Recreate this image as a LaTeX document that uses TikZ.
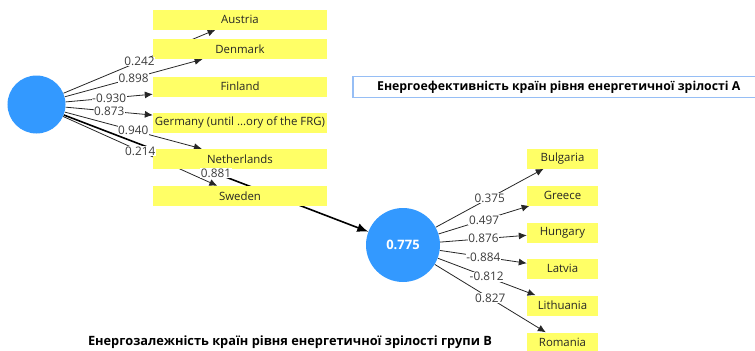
\documentclass[tikz,border=0pt]{standalone}
\usepackage{fontspec}
\setmainfont{Open Sans}
\usetikzlibrary{arrows.meta}
\definecolor{lvblue}{RGB}{51,153,255}
\definecolor{mvyellow}{RGB}{255,255,102}
\definecolor{titleblue}{RGB}{150,190,245}
\definecolor{wtgray}{RGB}{60,60,60}
\pgfdeclarelayer{bg}
\pgfsetlayers{bg,main}

\begin{document}
\begin{tikzpicture}[x=1bp,y=-1bp,
  lv/.style={circle, fill=lvblue, inner sep=0pt},
  mv/.style={fill=mvyellow, inner sep=0pt, minimum height=20bp, text=black!85,
    font=\fontsize{11.4bp}{12bp}\selectfont},
  wt/.style={fill=white, inner sep=0.6bp, text=wtgray,
    font=\fontsize{11.8bp}{12bp}\selectfont},
  outer/.style={-{Latex[length=8bp,width=7bp]}, line width=0.8bp, black!85},
  inner/.style={-{Latex[length=11bp,width=9bp]}, line width=1.6bp, black}]
\useasboundingbox (0,0) rectangle (755,350);

% Latent variables
\node[lv, minimum size=58bp] (enA) at (36.5,104.5) {};
\node[lv, minimum size=74bp, text=white,
  font=\bfseries\fontsize{13bp}{14bp}\selectfont] (enB) at (403,245) {0.775};

% Indicators of group A
\foreach \name/\txt/\y in {austria/Austria/19.5, denmark/Denmark/49,
    finland/Finland/86.5, germany/{Germany (until ...ory of the FRG)}/123,
    netherlands/Netherlands/159, sweden/Sweden/196}
  \node[mv, minimum width=174bp] (\name) at (240,\y) {\txt};

% Indicators of group B
\foreach \name/\txt/\y in {bulgaria/Bulgaria/158.5, greece/Greece/195.5,
    hungary/Hungary/232.5, latvia/Latvia/268.5,
    lithuania/Lithuania/305.5, romania/Romania/342.5}
  \node[mv, minimum width=71bp] (\name) at (562.5,\y) {\txt};

% Paths behind the boxes, weights on top
\begin{pgfonlayer}{bg}
\foreach \name in {austria, denmark, finland, germany, netherlands, sweden}
  \draw[outer] (enA) -- coordinate[midway] (w-\name) (\name);
\draw[inner] (enA) -- coordinate[midway] (w-enB) (enB);
\foreach \name in {bulgaria, greece, hungary, latvia, lithuania, romania}
  \draw[outer] (enB) -- coordinate[midway] (w-\name) (\name);
\end{pgfonlayer}
\foreach \name/\w in {austria/0.242, denmark/0.898, finland/-0.930,
    germany/0.873, netherlands/0.940, sweden/0.214, enB/0.881,
    bulgaria/0.375, greece/0.497, hungary/0.876,
    latvia/-0.884, lithuania/-0.812, romania/0.827}
  \node[wt] (l-\name) at (w-\name) {\w};

% Titles
\node[draw=titleblue, line width=1.5bp, minimum width=412bp, minimum height=21bp,
  anchor=west, font=\bfseries\fontsize{12.3bp}{13bp}\selectfont] (titleA) at (352,87)
  {Енергоефективність країн рівня енергетичної зрілості А};
\node[font=\bfseries\fontsize{12.8bp}{13bp}\selectfont] (titleB) at (290,342)
  {Енергозалежність країн рівня енергетичної зрілості групи В};
\end{tikzpicture}
\end{document}
